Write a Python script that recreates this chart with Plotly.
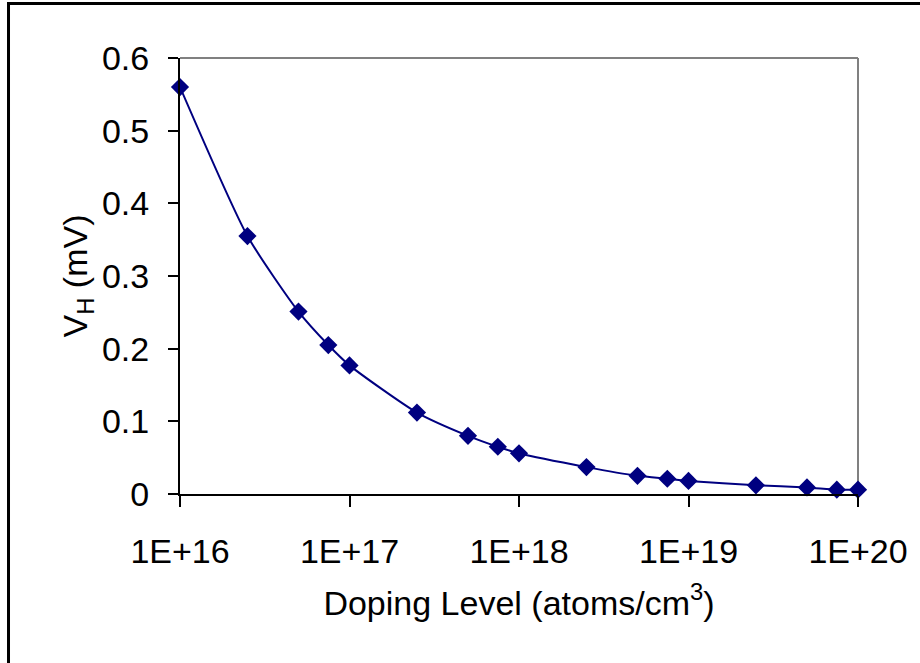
import plotly.graph_objects as go

# Hall voltage versus doping concentration
doping = [1e16, 2.5e16, 5e16, 7.5e16, 1e17, 2.5e17, 5e17, 7.5e17, 1e18,
          2.5e18, 5e18, 7.5e18, 1e19, 2.5e19, 5e19, 7.5e19, 1e20]
v_hall = [0.560, 0.355, 0.251, 0.205, 0.177, 0.112, 0.080, 0.065, 0.056,
          0.037, 0.025, 0.021, 0.018, 0.012, 0.009, 0.006, 0.006]

x_tick_vals = [1e16, 1e17, 1e18, 1e19, 1e20]
x_tick_text = ["1E+16", "1E+17", "1E+18", "1E+19", "1E+20"]
y_tick_vals = [0, 0.1, 0.2, 0.3, 0.4, 0.5, 0.6]
y_tick_text = ["0", "0.1", "0.2", "0.3", "0.4", "0.5", "0.6"]

NAVY = "#000080"
FONT = "Liberation Sans, Arial, sans-serif"
FS = 34

fig = go.Figure(
    go.Scatter(
        x=doping, y=v_hall, mode="lines+markers",
        line=dict(color=NAVY, width=2, shape="spline", smoothing=0.6),
        marker=dict(symbol="diamond", size=14, color=NAVY),
        cliponaxis=False,
    )
)

W, H = 920, 663
L, R, T, B = 180, 60, 58, 169
pw, ph = W - L - R, H - T - B

def px(x):
    return (x - L) / pw

def py(y):
    return (H - B - y) / ph

shapes = [
    # frame of the plot area (top and right edges)
    dict(type="line", xref="paper", yref="paper", x0=0, x1=1, y0=1, y1=1,
         line=dict(color="#808080", width=2), layer="below"),
    dict(type="line", xref="paper", yref="paper", x0=1, x1=1, y0=0, y1=1,
         line=dict(color="#808080", width=2), layer="below"),
    # outer chart border
    dict(type="line", xref="paper", yref="paper", x0=px(8), x1=px(930),
         y0=py(3.5), y1=py(3.5), line=dict(color="black", width=3)),
    dict(type="line", xref="paper", yref="paper", x0=px(8), x1=px(8),
         y0=py(2), y1=py(680), line=dict(color="black", width=3)),
]

fig.update_layout(
    width=W, height=H,
    margin=dict(l=L, r=R, t=T, b=B),
    paper_bgcolor="white", plot_bgcolor="white",
    showlegend=False,
    font=dict(family=FONT, size=FS, color="black"),
    shapes=shapes,
    xaxis=dict(
        type="log", range=[16, 20],
        tickvals=x_tick_vals, ticktext=x_tick_text,
        showgrid=False, zeroline=False,
        showline=True, linecolor="black", linewidth=2,
        ticks="outside", ticklen=11, tickwidth=2, tickcolor="black",
        ticklabelstandoff=15,
        tickfont=dict(family=FONT, size=FS, color="black"),
        title=dict(text="Doping Level (atoms/cm<sup>3</sup>)",
                   font=dict(family=FONT, size=FS, color="black"), standoff=22),
    ),
    yaxis=dict(
        range=[0, 0.6],
        tickvals=y_tick_vals, ticktext=y_tick_text,
        showgrid=False, zeroline=False,
        showline=True, linecolor="black", linewidth=2,
        ticks="outside", ticklen=10, tickwidth=2, tickcolor="black",
        ticklabelstandoff=12,
        tickfont=dict(family=FONT, size=FS, color="black"),
        title=dict(text="V<sub>H</sub> (mV)",
                   font=dict(family=FONT, size=FS, color="black"), standoff=4),
    ),
)

fig.write_html("out.html")
